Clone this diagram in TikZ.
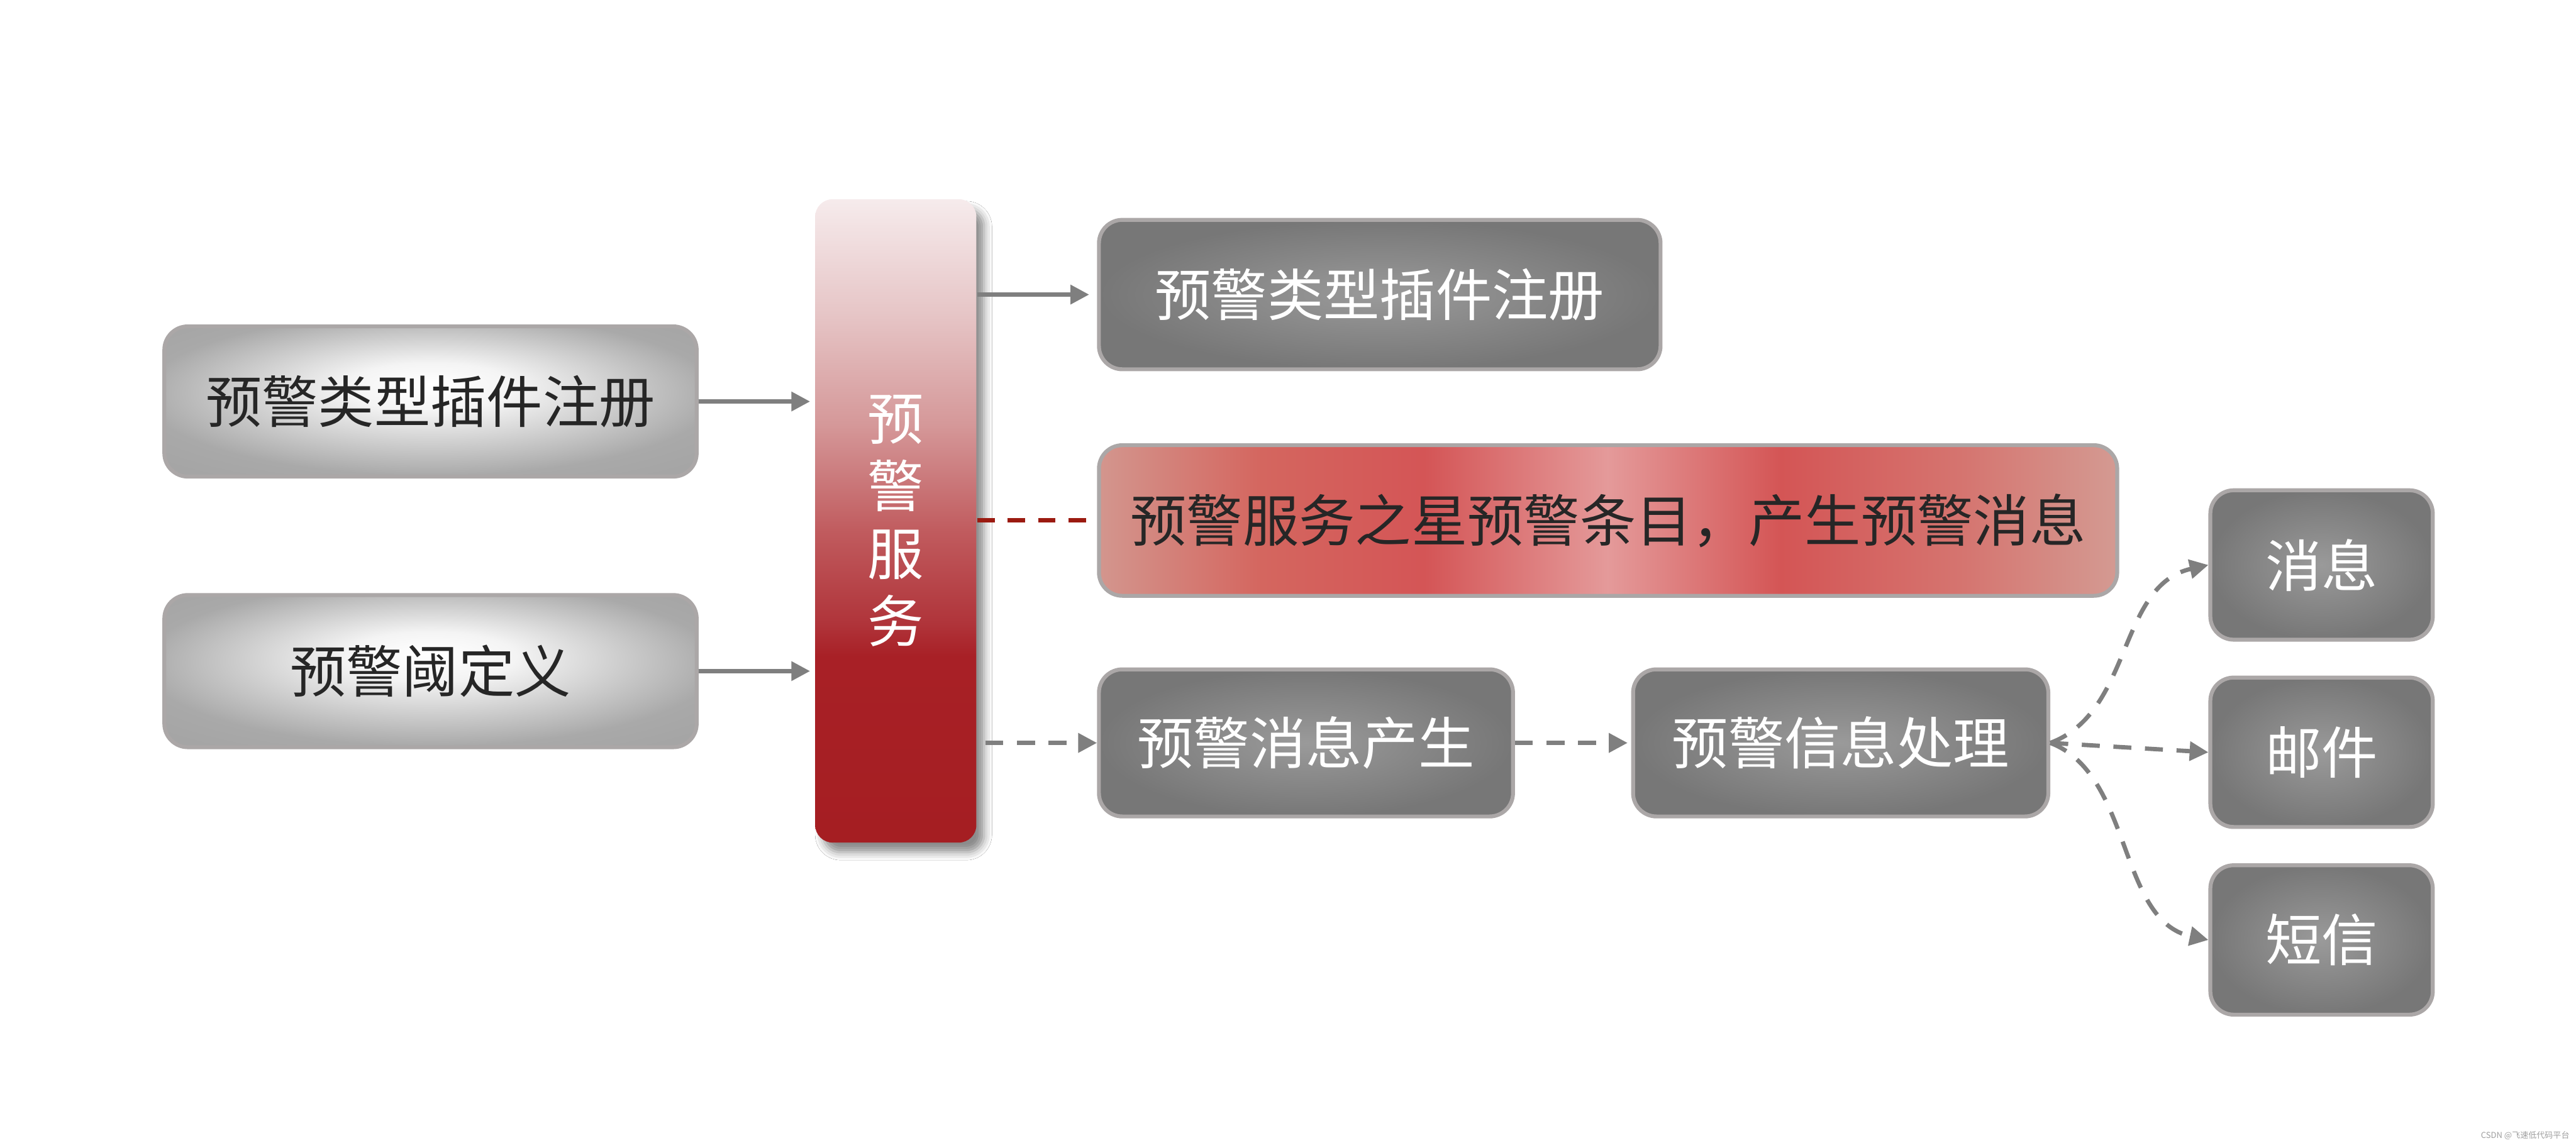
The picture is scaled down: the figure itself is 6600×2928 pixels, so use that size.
\documentclass[tikz,border=0pt]{standalone}
\usepackage{fontspec}
\newfontfamily\cjk{Noto Sans CJK SC}
\usetikzlibrary{arrows.meta,shadows.blur}

\definecolor{linegray}{HTML}{7F7F7F}
\definecolor{darkred}{HTML}{9B1A10}
\definecolor{txtdark}{HTML}{262626}
\definecolor{boxborder}{HTML}{ABA7A7}
\definecolor{lgA}{HTML}{FFFFFF}
\definecolor{lgB}{HTML}{F4F4F4}
\definecolor{lgC}{HTML}{A9A9A9}
\definecolor{lgD}{HTML}{9E9E9E}
\definecolor{dkA}{HTML}{9A9A9A}
\definecolor{dkB}{HTML}{777777}
\definecolor{rbA}{HTML}{A51E22}
\definecolor{rbB}{HTML}{A82026}
\definecolor{rbC}{HTML}{B0343A}
\definecolor{rbD}{HTML}{C05A5D}
\definecolor{rbE}{HTML}{D59899}
\definecolor{rbF}{HTML}{E6C5C6}
\definecolor{rbG}{HTML}{F6EBEC}
\definecolor{rrA}{HTML}{D3968E}
\definecolor{rrB}{HTML}{D4665F}
\definecolor{rrC}{HTML}{D45556}
\definecolor{rrD}{HTML}{E49A9A}
\definecolor{rrE}{HTML}{D45555}
\definecolor{rrF}{HTML}{D57570}
\definecolor{rrG}{HTML}{D49A92}

\pgfdeclareradialshading{lightgrad}{\pgfpoint{0bp}{6bp}}{color(0bp)=(lgA); color(8bp)=(lgB); color(27bp)=(lgC); color(45bp)=(lgD)}
\pgfdeclareradialshading{darkgrad}{\pgfpoint{0bp}{0bp}}{color(0bp)=(dkA); color(25bp)=(dkB); color(45bp)=(dkB)}
\pgfdeclareverticalshading{bargrad}{100bp}{color(0bp)=(rbA); color(25bp)=(rbA); color(39.5bp)=(rbB); color(42bp)=(rbC); color(49bp)=(rbD); color(57.5bp)=(rbE); color(66bp)=(rbF); color(75bp)=(rbG); color(100bp)=(rbG)}
\pgfdeclarehorizontalshading{redgrad}{100bp}{color(0bp)=(rrA); color(25bp)=(rrA); color(33bp)=(rrB); color(41bp)=(rrC); color(50bp)=(rrD); color(58.5bp)=(rrE); color(67.5bp)=(rrF); color(75bp)=(rrG); color(100bp)=(rrG)}

\tikzset{
  basefont/.style={font=\cjk\fontsize{14.4pt}{17.3pt}\selectfont},
  lightbox/.style={basefont, draw=boxborder, line width=1pt, rounded corners=6pt, shading=lightgrad, inner sep=0pt, text=txtdark},
  darkbox/.style={basefont, draw=boxborder, line width=1pt, rounded corners=6pt, shading=darkgrad, inner sep=0pt, text=white},
  redbox/.style={basefont, draw=boxborder, line width=1pt, rounded corners=6pt, shading=redgrad, inner sep=0pt, text=txtdark},
  barbox/.style={basefont, rounded corners=4.5pt, shading=bargrad, inner sep=0pt, text=white, align=center,
    blur shadow={shadow xshift=2pt, shadow yshift=-2.5pt, shadow blur radius=2pt, shadow opacity=45}},
  conn/.style={draw=linegray, line width=1.1pt, -{Triangle[length=4.8pt,width=4.8pt]}},
  dconn/.style={conn, dash pattern=on 4.6pt off 3.5pt},
  rconn/.style={draw=darkred, line width=1.1pt, dash pattern=on 4.5pt off 3.3pt}
}

\begin{document}
\begin{tikzpicture}[x=0.1pt, y=-0.1pt]
  \useasboundingbox[fill=white] (0,0) rectangle (6600,2928);

  \node[lightbox, minimum width=136.4pt, minimum height=38.5pt] (L1) at (1103,1029) {预警类型插件注册};
  \node[lightbox, minimum width=136.4pt, minimum height=39pt] (L2) at (1103,1720) {预警阈定义};

  \node[barbox, minimum width=41.3pt, minimum height=164.9pt] (bar) at (2295,1335) {预\\警\\服\\务};

  \node[darkbox, minimum width=143.9pt, minimum height=38.3pt] (T) at (3535,755) {预警类型插件注册};
  \node[redbox, minimum width=260.9pt, minimum height=38.6pt] (R) at (4120,1334) {预警服务之星预警条目，产生预警消息};
  \node[darkbox, minimum width=106.1pt, minimum height=37.7pt] (P1) at (3346,1904) {预警消息产生};
  \node[darkbox, minimum width=106.4pt, minimum height=37.7pt] (P2) at (4716,1904) {预警信息处理};

  \node[darkbox, minimum width=57pt, minimum height=38.3pt] (M1) at (5948,1448) {消息};
  \node[darkbox, minimum width=57pt, minimum height=38.3pt] (M2) at (5948,1928) {邮件};
  \node[darkbox, minimum width=57pt, minimum height=38.3pt] (M3) at (5948,2409) {短信};

  \draw[conn, shorten >=1.1pt] (L1.east) -- (L1.east -| bar.west);
  \draw[conn, shorten >=1.1pt] (L2.east) -- (L2.east -| bar.west);
  \draw[conn, shorten >=2pt] (T.west -| bar.east) -- (T.west);
  \draw[rconn] (R.west -| bar.east) -- (R.west);
  \draw[dconn] ([xshift=2.1pt]P1.west -| bar.east) -- (P1.west);
  \draw[dconn, shorten >=0.9pt] (P1.east) -- (P2.west);

  \draw[dconn] (P2.east) .. controls +(212,-79) and +(-233,52) .. (M1.west);
  \draw[dconn] (P2.east) -- (M2.west);
  \draw[dconn] (P2.east) .. controls +(212,81) and +(-233,-49) .. (M3.west);

  \node[anchor=east, inner sep=0pt, text=gray!75, font=\cjk\fontsize{2.1pt}{2.5pt}\selectfont] (wm) at (6585,2911) {CSDN @飞速低代码平台};
\end{tikzpicture}
\end{document}
